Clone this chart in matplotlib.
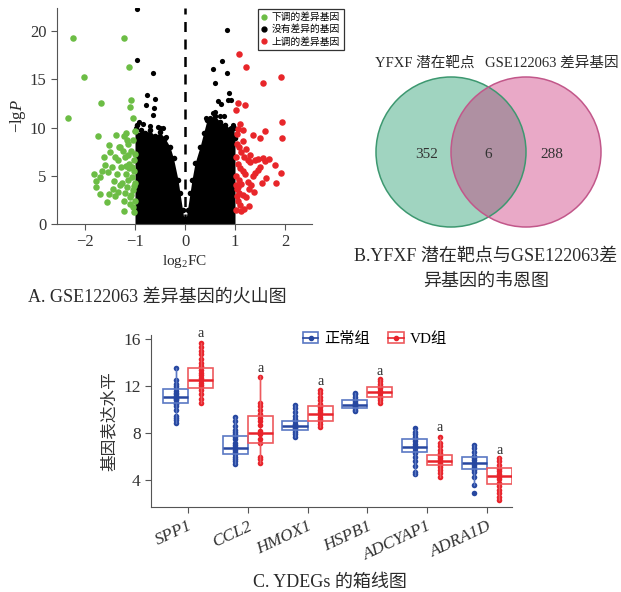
import matplotlib
matplotlib.use("Agg")
import matplotlib.pyplot as plt
from matplotlib.patches import Circle, Patch
from matplotlib.lines import Line2D
from matplotlib.legend_handler import HandlerTuple
import numpy as np

FAM = ['Liberation Serif', 'Noto Sans CJK SC', 'DejaVu Sans']
plt.rcParams['font.family'] = FAM
plt.rcParams['mathtext.fontset'] = 'custom'
plt.rcParams['mathtext.rm'] = 'Liberation Serif'
plt.rcParams['mathtext.it'] = 'Liberation Serif:italic'

# ---------------- Panel A data (volcano) ----------------
green_x = [-2.25, -1.22, -2.03, -1.13, -1.68, -1.08, -1.11, -1.05, -2.35, -1.75, -1.38, -1.23, -1.19, -1.0,
           -1.52, -1.33, -1.17, -1.83, -1.78, -1.78, -1.7, -1.67, -1.7, -1.57, -1.53, -1.5, -1.47, -1.43,
           -1.4, -1.37, -1.35, -1.3, -1.29, -1.27, -1.23, -1.22, -1.2, -1.18, -1.17, -1.15, -1.13, -1.11,
           -1.1, -1.09, -1.07, -1.05, -1.05, -1.03, -1.02, -1.01, -1.01, -1.0, -1.6, -1.45, -1.25, -1.35,
           -1.55, -1.4, -1.15, -1.2, -1.08, -1.3, -1.62, -1.12, -1.04, -1.02, -1.06, -1.03, -1.14, -1.19]
green_y = [19.3, 19.3, 15.2, 16.3, 12.6, 12.9, 12.1, 10.95, 11.0, 9.1, 9.2, 9.1, 9.4, 9.6,
           8.2, 8.0, 8.7, 5.2, 4.5, 3.8, 4.9, 5.5, 3.1, 2.3, 3.1, 7.5, 5.9, 4.5,
           6.9, 5.2, 3.3, 8.0, 5.9, 4.3, 2.4, 1.4, 6.9, 5.2, 3.8, 8.3, 6.2, 2.8,
           2.1, 7.6, 4.9, 3.5, 8.7, 6.6, 5.5, 2.4, 4.3, 7.3, 6.1, 3.6, 7.6, 6.6,
           5.4, 2.9, 4.6, 3.2, 3.0, 4.0, 7.0, 5.8, 1.8, 3.9, 5.9, 1.2, 7.2, 6.0]
red_x = [1.07, 1.21, 1.91, 1.56, 1.05, 1.2, 1.02, 1.93, 1.59, 1.15, 1.06, 1.35, 1.49, 1.93, 1.67, 1.8,
         1.92, 1.82, 1.53, 1.37, 1.27, 1.03, 1.08, 1.12, 1.02, 1.18, 1.25, 1.3, 1.4, 1.45, 1.55, 1.6,
         1.05, 1.1, 1.15, 1.2, 1.35, 1.45, 1.02, 1.07, 1.12, 1.25, 1.32, 1.03, 1.08, 1.15, 1.22, 1.05,
         1.1, 1.02, 1.12, 1.18, 1.28, 1.4, 1.5, 1.62, 1.22, 1.15, 1.3, 1.04, 1.09, 1.01, 1.06, 1.03]
red_y = [17.6, 16.3, 15.2, 14.6, 12.5, 12.3, 11.8, 10.6, 9.6, 9.7, 9.9, 9.2, 8.9, 8.9, 6.7, 6.1,
         5.3, 4.3, 4.3, 3.3, 1.9, 8.3, 8.0, 7.5, 7.0, 6.9, 6.6, 6.4, 6.6, 6.7, 6.8, 6.5,
         6.2, 5.8, 5.5, 5.2, 5.0, 5.6, 5.0, 4.6, 4.2, 4.4, 4.0, 3.6, 3.2, 3.0, 2.8, 2.4,
         2.0, 1.5, 1.3, 1.6, 3.6, 5.3, 5.9, 4.8, 7.8, 8.6, 7.2, 9.3, 10.4, 4.0, 3.8, 2.9]
black_x = [-0.97, -0.97, -0.65, -0.77, -0.6, -0.78, -0.62, -0.65, -0.98, -0.55, 0.83, 0.74, 0.55,
           0.83, 0.6, 0.88, 0.85, 0.91, 0.65, 0.72, 0.6, 0.7, 0.5, 0.92, -0.45, -0.85,
           -0.92, -0.7, -0.5, -0.38, 0.42, 0.55, 0.78, 0.95]
black_y = [22.3, 17.0, 15.7, 13.4, 13.0, 12.3, 12.0, 11.3, 10.0, 10.1, 20.1, 16.9, 16.1,
           15.7, 14.6, 13.6, 12.9, 12.9, 12.8, 12.4, 11.6, 11.2, 11.0, 10.0, 10.0, 10.4,
           10.6, 10.2, 10.0, 9.0, 11.0, 11.5, 11.2, 10.3]
# envelope of the dense non-significant cloud
cloud_lx = [-1.0, -0.97, -0.93, -0.88, -0.8, -0.7, -0.6, -0.5, -0.4, -0.3, -0.23, -0.14, -0.1, -0.05, -0.02]
cloud_ly = [9.6, 10.3, 9.2, 9.8, 9.4, 9.7, 9.1, 9.5, 8.9, 8.0, 6.8, 4.6, 3.2, 1.5, 0.5]
cloud_rx = [0.02, 0.05, 0.1, 0.14, 0.2, 0.3, 0.37, 0.44, 0.5, 0.6, 0.7, 0.8, 0.9, 0.97, 1.0]
cloud_ry = [0.5, 1.5, 3.2, 4.6, 6.3, 8.0, 9.4, 10.8, 10.9, 11.2, 10.6, 10.3, 9.9, 10.0, 8.9]
legend_labels = ['下调的差异基因', '没有差异的基因', '上调的差异基因']

# ---------------- Panel B data (Venn) ----------------
venn_sets = ['YFXF 潜在靶点', 'GSE122063 差异基因']
venn_counts = [352, 6, 288]

# ---------------- Panel C data (boxplots) ----------------
genes = ['SPP1', 'CCL2', 'HMOX1', 'HSPB1', 'ADCYAP1', 'ADRA1D']
groups = ['正常组', 'VD组']
# [whislo, q1, median, q3, whishi]
normal_stats = [[8.9, 10.54, 11.08, 11.75, 13.5],
                [5.39, 6.2, 6.72, 7.76, 9.4],
                [7.7, 8.24, 8.61, 9.04, 10.4],
                [9.91, 10.11, 10.4, 10.79, 11.44],
                [4.45, 6.38, 6.86, 7.51, 8.39],
                [3.6, 4.96, 5.47, 6.01, 6.97]]
vd_stats = [[10.54, 11.87, 12.49, 13.57, 15.7],
            [5.44, 7.2, 7.99, 9.46, 12.86],
            [8.5, 9.01, 9.6, 10.31, 11.67],
            [10.6, 11.05, 11.53, 11.92, 12.58],
            [4.31, 5.27, 5.67, 6.18, 7.71],
            [2.33, 3.69, 4.4, 5.02, 5.95]]
normal_points = [
    [8.9, 9.1, 9.3, 9.5, 10.0, 10.3, 10.5, 10.6, 10.8, 10.9, 11.0, 11.1, 11.2, 11.3, 11.4, 11.6, 11.8, 12.0, 12.2, 12.5, 13.5],
    [5.4, 5.6, 5.8, 6.0, 6.2, 6.4, 6.6, 6.8, 7.0, 7.2, 7.5, 7.7, 7.9, 8.1, 8.3, 8.6, 9.0, 9.4],
    [7.7, 7.9, 8.1, 8.3, 8.4, 8.5, 8.6, 8.7, 8.8, 9.0, 9.2, 9.5, 9.8, 10.1, 10.4],
    [9.9, 10.0, 10.1, 10.2, 10.3, 10.4, 10.5, 10.6, 10.7, 10.9, 11.1, 11.3, 11.4],
    [4.5, 4.7, 5.2, 5.6, 6.0, 6.3, 6.5, 6.7, 6.9, 7.1, 7.3, 7.5, 7.7, 7.9, 8.1, 8.4],
    [2.95, 3.6, 4.3, 4.7, 4.9, 5.1, 5.3, 5.5, 5.7, 5.9, 6.1, 6.4, 6.7, 7.0]]
vd_points = [
    [10.6, 10.9, 11.3, 11.7, 11.9, 12.1, 12.3, 12.5, 12.7, 12.9, 13.1, 13.4, 13.7, 14.0, 14.3, 14.7, 15.0, 15.3, 15.7],
    [5.5, 5.8, 6.0, 7.2, 7.5, 7.9, 8.0, 8.2, 8.7, 9.0, 9.3, 9.6, 10.0, 10.3, 10.6, 12.8],
    [8.5, 8.8, 9.0, 9.2, 9.4, 9.6, 9.8, 10.0, 10.2, 10.5, 10.8, 11.1, 11.4, 11.7],
    [10.6, 10.8, 11.0, 11.2, 11.4, 11.5, 11.6, 11.8, 12.0, 12.2, 12.4, 12.6],
    [4.3, 4.6, 4.9, 5.1, 5.3, 5.5, 5.7, 5.9, 6.1, 6.3, 6.6, 6.9, 7.2, 7.7],
    [2.3, 2.6, 2.9, 3.2, 3.5, 3.8, 4.1, 4.3, 4.5, 4.8, 5.0, 5.3, 5.6, 5.9]]
sig_labels = ['a', 'a', 'a', 'a', 'a', 'a']
sig_y = [16.5, 13.5, 12.35, 13.2, 8.5, 6.55]

GREEN = '#6cbd45'
RED_V = '#e8262a'
BLUE = '#2747a0'
BLUE_BOX = '#5a78c4'
RED = '#e8232b'
RED_BOX = '#ee5a5e'
TXT = '#2a2a2a'

fig = plt.figure(figsize=(6.21, 5.92), dpi=100)

# ================= Panel A =================
axA = fig.add_axes([57/621, 1-224/592, 255/621, 216/592])
axA.fill_between(cloud_lx, 0, cloud_ly, color='black', lw=0, zorder=2)
axA.fill_between(cloud_rx, 0, cloud_ry, color='black', lw=0, zorder=2)
axA.fill_between([-0.05, 0.05], 0, [0.3, 0.3], color='black', lw=0, zorder=2)
axA.scatter(cloud_lx + cloud_rx, cloud_ly + cloud_ry, s=16, color='black', lw=0, zorder=3)
axA.scatter(black_x, black_y, s=14, color='black', lw=0, zorder=3)
axA.scatter(green_x, green_y, s=22, color=GREEN, lw=0, zorder=3)
axA.scatter(red_x, red_y, s=22, color=RED_V, lw=0, zorder=3)
axA.axvline(0, color='black', ls=(0, (4, 3)), lw=1.8, zorder=4)
axA.set_xlim(-2.56, 2.54)
axA.set_ylim(0, 22.4)
axA.set_xticks([-2, -1, 0, 1, 2])
axA.set_xticklabels(['−2', '−1', '0', '1', '2'])
axA.set_yticks([0, 5, 10, 15, 20])
for s in ['top', 'right']:
    axA.spines[s].set_visible(False)
for s in ['left', 'bottom']:
    axA.spines[s].set_color('#555555')
axA.tick_params(labelsize=12, colors='#333333', length=4, color='#555555')
axA.set_xlabel(r'log$_2$FC', fontsize=11, labelpad=2, color=TXT)
axA.set_ylabel(r'−lg$\it{P}$', fontsize=12, labelpad=1, color=TXT)
hA = [Line2D([], [], marker='o', ls='', color=c, markersize=3.5)
      for c in [GREEN, 'black', RED_V]]
legA = fig.legend(hA, legend_labels, loc='upper left', bbox_to_anchor=(253/621, 1-4/592),
                  frameon=True, fancybox=False, edgecolor='black',
                  handlelength=0.6, handletextpad=0.5, borderpad=0.35, labelspacing=0.22,
                  prop={'family': ['Noto Sans CJK SC', 'DejaVu Sans'], 'size': 7})
legA.get_frame().set_linewidth(0.9)
fig.text(157/621, 1-297/592, 'A. GSE122063 差异基因的火山图', ha='center', va='center',
         fontsize=13, color=TXT)

# ================= Panel B (Venn) =================
axB = fig.add_axes([0, 0, 1, 1], facecolor='none')
axB.set_xlim(0, 621)
axB.set_ylim(592, 0)
axB.axis('off')
r = 75
c1 = (451, 152)
c2 = (526, 152)
axB.add_patch(Circle(c1, r, facecolor='#a0d4c0', edgecolor='none', zorder=1))
axB.add_patch(Circle(c2, r, facecolor='#c82a75', alpha=0.4, edgecolor='none', zorder=2))
axB.add_patch(Circle(c1, r, facecolor='none', edgecolor='#3d9870', lw=1.1, zorder=3))
axB.add_patch(Circle(c2, r, facecolor='none', edgecolor='#c2578a', lw=1.1, zorder=3))
axB.text(427, 155, str(venn_counts[0]), ha='center', va='center', fontsize=11, color='#333333', zorder=4)
axB.text(488, 155, str(venn_counts[1]), ha='center', va='center', fontsize=11, color='#333333', zorder=4)
axB.text(552, 155, str(venn_counts[2]), ha='center', va='center', fontsize=11, color='#333333', zorder=4)
axB.text(425, 63, venn_sets[0], ha='center', va='center', fontsize=10.5, color=TXT)
axB.text(552, 63, venn_sets[1], ha='center', va='center', fontsize=10.5, color=TXT)
axB.text(486, 256, 'B.YFXF 潜在靶点与GSE122063差', ha='center', va='center', fontsize=13, color=TXT)
axB.text(486, 281, '异基因的韦恩图', ha='center', va='center', fontsize=13, color=TXT)

# ================= Panel C =================
axC = fig.add_axes([151/621, 1-507/592, 361/621, 172/592])
pos = np.arange(len(genes))
off = 0.21
w = 0.42

def to_bxp(stats):
    return [dict(whislo=s[0], q1=s[1], med=s[2], q3=s[3], whishi=s[4], fliers=[]) for s in stats]

for stats, pts, sign, pc, bc in [(normal_stats, normal_points, -1, BLUE, BLUE_BOX),
                                  (vd_stats, vd_points, 1, RED, RED_BOX)]:
    xs = pos + sign * off
    for x, s in zip(xs, stats):
        axC.plot([x, x], [s[0], s[4]], color=bc, lw=1.0, zorder=1, clip_on=False)
    axC.bxp(to_bxp(stats), positions=xs, widths=w, showcaps=False, patch_artist=True,
            boxprops=dict(facecolor='none', edgecolor=bc, lw=1.2),
            medianprops=dict(color=pc, lw=1.8),
            whiskerprops=dict(color=bc, lw=1.0), manage_ticks=False, zorder=3)
    for x, p in zip(xs, pts):
        axC.scatter([x] * len(p), p, s=16, color=pc, lw=0, zorder=2, clip_on=False)

for i, (lab, y) in enumerate(zip(sig_labels, sig_y)):
    axC.text(pos[i] + off, y, lab, ha='center', va='center', fontsize=10, color=TXT)

axC.set_xlim(-0.62, 5.42)
axC.set_ylim(1.73, 16.34)
axC.set_yticks([4, 8, 12, 16])
axC.set_xticks(pos)
axC.set_xticklabels(genes, rotation=25, ha='right', rotation_mode='anchor',
                    fontstyle='italic', fontsize=12.5, color='#333333')
for s in ['top', 'right']:
    axC.spines[s].set_visible(False)
for s in ['left', 'bottom']:
    axC.spines[s].set_color('#555555')
axC.tick_params(axis='y', labelsize=12.5, colors='#333333', color='#555555', length=4)
axC.tick_params(axis='x', color='#555555', length=4, pad=4)
axC.set_ylabel('基因表达水平', fontsize=12, color='#333333', labelpad=4,
               family=['Noto Sans CJK SC', 'DejaVu Sans'])

hC = [(Patch(facecolor='white', edgecolor=BLUE_BOX, lw=1.2),
       Line2D([], [], color=BLUE, marker='o', markersize=3, lw=1.2)),
      (Patch(facecolor='white', edgecolor=RED_BOX, lw=1.2),
       Line2D([], [], color=RED, marker='o', markersize=3, lw=1.2))]
legC = fig.legend(hC, groups, loc='center', bbox_to_anchor=(375/621, 1-339/592), ncol=2,
                  frameon=False, handlelength=1.0, handleheight=0.7, handletextpad=0.4,
                  columnspacing=1.2, prop={'family': FAM, 'size': 11},
                  handler_map={tuple: HandlerTuple(ndivide=1, pad=0)})
fig.text(330/621, 1-582/592, 'C. YDEGs 的箱线图', ha='center', va='center', fontsize=13, color=TXT)

fig.savefig('out.png', dpi=100)
